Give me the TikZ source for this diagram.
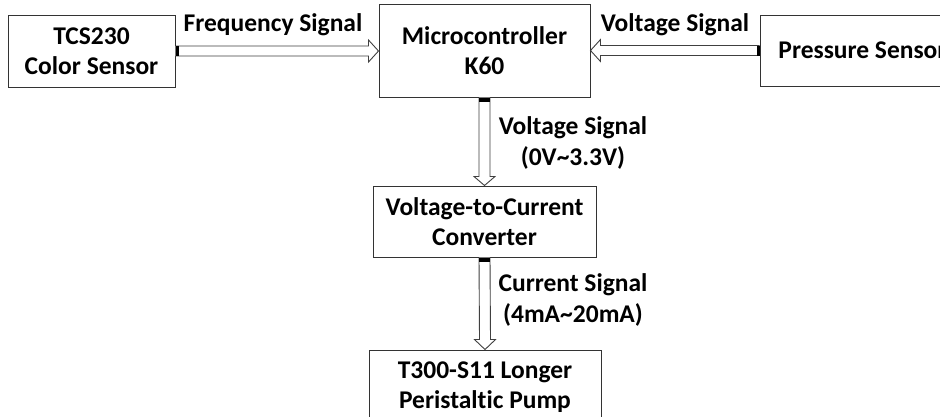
\documentclass[tikz,border=0pt]{standalone}
\usepackage{fontspec}
\setmainfont{Carlito}[Ligatures={NoCommon}]
\usetikzlibrary{calc}
\tikzset{
  box/.style={draw=black!80, line width=1pt, fill=white, align=center,
    inner sep=0pt, font=\bfseries\fontsize{25.5}{30}\selectfont},
  lbl/.style={align=center, inner sep=0pt, font=\bfseries\fontsize{25.5}{31}\selectfont},
  barrow/.style={draw=black!75, line width=0.9pt, fill=white, line join=miter},
  bmark/.style={fill=black, draw=none}
}
\begin{document}
\begin{tikzpicture}[x=1pt, y=-1pt]
\useasboundingbox (0,0) rectangle (940,416);
\clip (0,0) rectangle (940,416);
\fill[white] (0,0) rectangle (940,416);

\node[box, minimum width=167pt, minimum height=72pt] (tcs) at (91.5,51) {TCS230\\Color Sensor};
\node[box, minimum width=211pt, minimum height=93pt] (mcu) at (484.5,50.5) {Microcontroller\\K60};
\node[box, minimum width=205pt, minimum height=71pt] (press) at (862.5,50.5) {Pressure Sensor};
\node[box, minimum width=223pt, minimum height=71pt] (v2c) at (484.5,221.5) {Voltage-to-Current\\Converter};
\node[box, minimum width=232pt, minimum height=74pt] (pump) at (485,387) {T300-S11 Longer\\Peristaltic Pump};

% TCS -> MCU
\coordinate (t1) at (mcu.west |- tcs.east);
\draw[barrow] ($(tcs.east)+(0,-5)$) -- ($(t1)+(-10,-5)$) -- ($(t1)+(-10,-11)$) -- (t1)
  -- ($(t1)+(-10,11)$) -- ($(t1)+(-10,5)$) -- ($(tcs.east)+(0,5)$);
\fill[bmark] ($(tcs.east)+(0,-5)$) rectangle ($(tcs.east)+(3,5)$);

% Pressure -> MCU
\coordinate (t2) at (mcu.east |- press.west);
\draw[barrow] ($(press.west)+(0,-5)$) -- ($(t2)+(10,-5)$) -- ($(t2)+(10,-11)$) -- (t2)
  -- ($(t2)+(10,11)$) -- ($(t2)+(10,5)$) -- ($(press.west)+(0,5)$);
\fill[bmark] ($(press.west)+(0,-5)$) rectangle ($(press.west)+(-3,5)$);

% MCU -> V2C
\draw[barrow] ($(mcu.south)+(-5.5,0)$) -- ($(v2c.north)+(-5.5,-9)$) -- ($(v2c.north)+(-10.5,-9)$) -- (v2c.north)
  -- ($(v2c.north)+(10.5,-9)$) -- ($(v2c.north)+(5.5,-9)$) -- ($(mcu.south)+(5.5,0)$);
\fill[bmark] ($(mcu.south)+(-5.5,0)$) rectangle ($(mcu.south)+(5.5,4)$);

% V2C -> Pump
\draw[barrow] ($(v2c.south)+(-5.5,0)$) -- ($(pump.north)+(-5.5,-10)$) -- ($(pump.north)+(-10.5,-10)$) -- (pump.north)
  -- ($(pump.north)+(10.5,-10)$) -- ($(pump.north)+(5.5,-10)$) -- ($(v2c.south)+(5.5,0)$);
\fill[bmark] ($(v2c.south)+(-5.5,0)$) rectangle ($(v2c.south)+(5.5,4)$);

% labels
\node[lbl] (l1) at (273,25) {Frequency Signal};
\node[lbl] (l2) at (675,25) {Voltage Signal};
\node[lbl] (l3) at (573,143) {Voltage Signal\\(0V\textasciitilde3.3V)};
\node[lbl] (l4) at (573,300) {Current Signal\\(4mA\textasciitilde20mA)};
\end{tikzpicture}
\end{document}
